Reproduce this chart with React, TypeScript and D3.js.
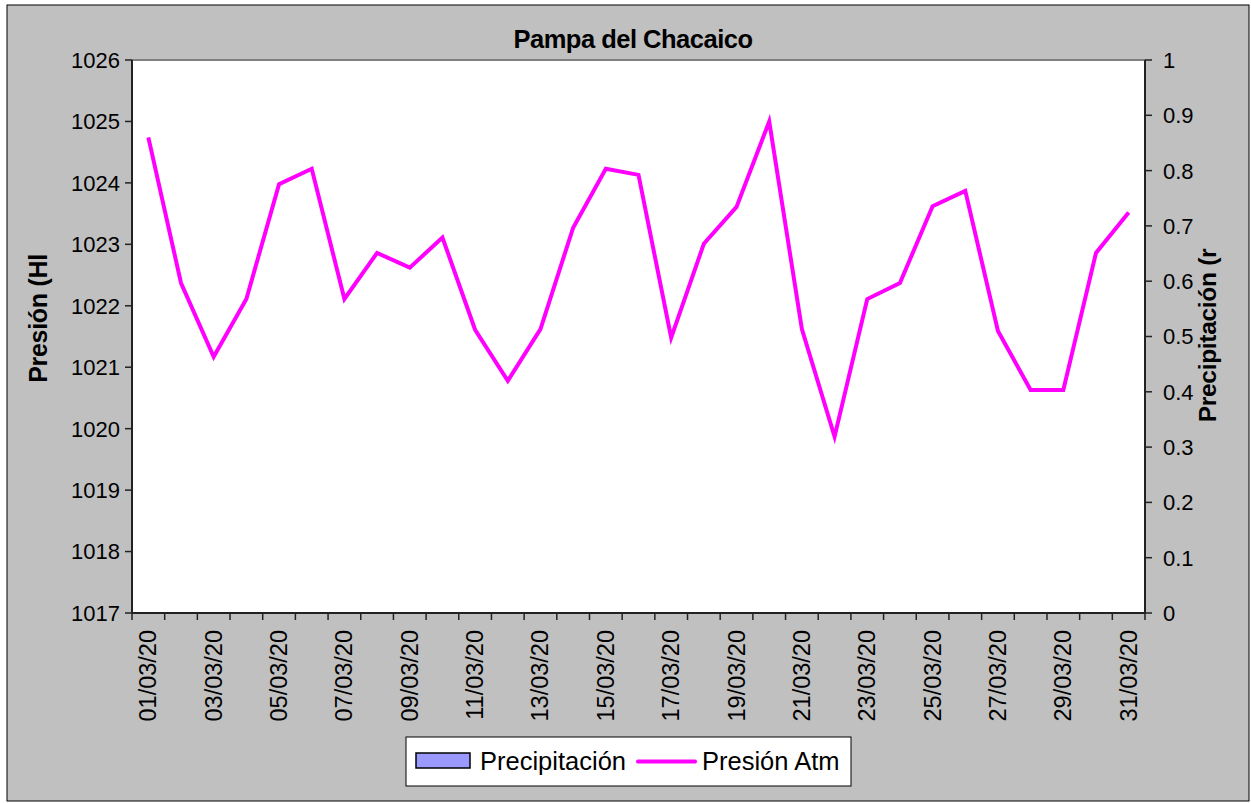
import React from "react";
import * as d3 from "d3";

const days: string[] = Array.from({ length: 31 }, (_, i) => `${String(i + 1).padStart(2, "0")}/03/20`);
const presion: number[] = [
  1024.74, 1022.37, 1021.17, 1022.11, 1023.98, 1024.23, 1022.11, 1022.86, 1022.62, 1023.11,
  1021.61, 1020.78, 1021.62, 1023.27, 1024.23, 1024.13, 1021.48, 1023.01, 1023.61, 1025.0,
  1021.62, 1019.87, 1022.11, 1022.37, 1023.62, 1023.87, 1021.59, 1020.63, 1020.63, 1022.86,
  1023.52,
];
const precipitacion: number[] = new Array(31).fill(0);
const leftTicks: number[] = [1017, 1018, 1019, 1020, 1021, 1022, 1023, 1024, 1025, 1026];
const rightTicks: number[] = [0, 0.1, 0.2, 0.3, 0.4, 0.5, 0.6, 0.7, 0.8, 0.9, 1];

const W = 1251, H = 803;
const L = 132, R = 1145, T = 60, B = 613;
const FONT = "'Liberation Sans', Arial, sans-serif";

export default function App() {
  const x = d3.scaleBand<string>().domain(days).range([L, R]).padding(0);
  const yL = d3.scaleLinear().domain([1017, 1026]).range([B, T]);
  const yR = d3.scaleLinear().domain([0, 1]).range([B, T]);
  const cx = (d: string) => (x(d) as number) + x.bandwidth() / 2;
  const line = d3
    .line<number>()
    .x((_, i) => cx(days[i]))
    .y((v) => yL(v));
  const bw = x.bandwidth() * 0.6;

  return (
    <svg width={W} height={H} style={{ position: "absolute", left: 0, top: 0 }} fontFamily={FONT}>
      <rect x={0} y={0} width={W} height={H} fill="#ffffff" />
      <rect x={7} y={5} width={1242} height={796} fill="#c0c0c0" stroke="#000" strokeWidth={1} />
      <rect x={L} y={T} width={R - L} height={B - T} fill="#ffffff" stroke="#808080" strokeWidth={2} />

      {/* precipitation bars (all zero) */}
      {precipitacion.map((v, i) => (
        <rect key={"b" + i} x={cx(days[i]) - bw / 2} y={yR(v)} width={bw} height={B - yR(v)} fill="#9999ff" stroke="#000" strokeWidth={v > 0 ? 1 : 0} />
      ))}

      {/* left axis */}
      <line x1={L} x2={L} y1={T} y2={B} stroke="#222" strokeWidth={2} />
      {leftTicks.map((t) => (
        <g key={"l" + t}>
          <line x1={L - 7} x2={L} y1={yL(t)} y2={yL(t)} stroke="#222" strokeWidth={1.5} />
          <text x={L - 12} y={yL(t)} dy="0.36em" textAnchor="end" fontSize={22} fill="#000">{t}</text>
        </g>
      ))}

      {/* right axis */}
      <line x1={R} x2={R} y1={T} y2={B} stroke="#222" strokeWidth={2} />
      {rightTicks.map((t) => (
        <g key={"r" + t}>
          <line x1={R} x2={R + 7} y1={yR(t)} y2={yR(t)} stroke="#222" strokeWidth={1.5} />
          <text x={R + 18} y={yR(t)} dy="0.36em" textAnchor="start" fontSize={22} fill="#000">{t}</text>
        </g>
      ))}

      {/* bottom axis */}
      <line x1={L} x2={R} y1={B} y2={B} stroke="#222" strokeWidth={2} />
      {days.map((d, i) => (
        <line key={"xt" + i} x1={x(d) as number} x2={x(d) as number} y1={B} y2={B + 7} stroke="#222" strokeWidth={1.5} />
      ))}
      <line x1={R} x2={R} y1={B} y2={B + 7} stroke="#222" strokeWidth={1.5} />
      {days.map((d, i) =>
        i % 2 === 0 ? (
          <text
            key={"xl" + i}
            transform={`translate(${cx(d) + 8},${630}) rotate(-90)`}
            textAnchor="end"
            fontSize={23.5}
            fill="#000"
          >
            {d}
          </text>
        ) : null
      )}

      {/* pressure line */}
      <path d={line(presion) || ""} fill="none" stroke="#ff00ff" strokeWidth={4} strokeLinejoin="miter" />

      {/* title */}
      <text x={633} y={48} textAnchor="middle" fontSize={25.5} fontWeight="bold" letterSpacing={-0.5} fill="#000">
        Pampa del Chacaico
      </text>

      {/* axis titles */}
      <text transform={`translate(47,318.5) rotate(-90)`} textAnchor="middle" fontSize={25} fontWeight="bold" letterSpacing={-0.3} fill="#000">
        Presión (Hl
      </text>
      <text transform={`translate(1216,335.5) rotate(-90)`} textAnchor="middle" fontSize={24.5} fontWeight="bold" letterSpacing={-0.3} fill="#000">
        Precipitación (r
      </text>

      {/* legend */}
      <rect x={406} y={737} width={445} height={49} fill="#ffffff" stroke="#000" strokeWidth={1} />
      <rect x={416} y={753} width={54} height={15} fill="#9999ff" stroke="#000" strokeWidth={1.5} />
      <text x={480} y={770} fontSize={25.5} fill="#000">Precipitación</text>
      <line x1={638} x2={695} y1={761.5} y2={761.5} stroke="#ff00ff" strokeWidth={4} strokeLinecap="round" />
      <text x={702} y={770} fontSize={25.5} fill="#000">Presión Atm</text>
    </svg>
  );
}
